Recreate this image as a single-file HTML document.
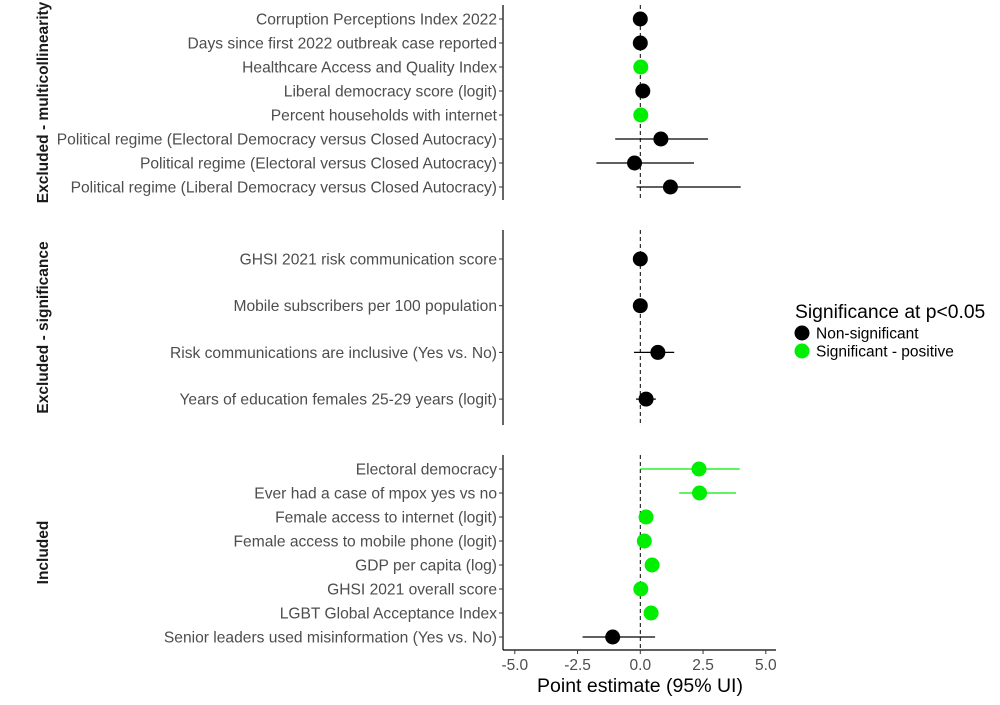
<!DOCTYPE html>
<html><head><meta charset="utf-8"><style>
body{margin:0;background:#fff;}
svg{font-family:"Liberation Sans",Arial,sans-serif;}
</style></head><body>
<svg id="chart" width="1000" height="700"></svg>
<script>
const panelNames=["Excluded - multicollinearity","Excluded - significance","Included"];
const labels1=["Corruption Perceptions Index 2022","Days since first 2022 outbreak case reported","Healthcare Access and Quality Index","Liberal democracy score (logit)","Percent households with internet","Political regime (Electoral Democracy versus Closed Autocracy)","Political regime (Electoral versus Closed Autocracy)","Political regime (Liberal Democracy versus Closed Autocracy)"];
const est1=[0.0,0.0,0.02,0.1,0.02,0.82,-0.23,1.2];
const lo1=[-0.05,-0.05,-0.03,0.05,-0.03,-1.0,-1.75,-0.15];
const hi1=[0.05,0.05,0.07,0.15,0.07,2.7,2.14,4.0];
const sig1=[0,0,1,0,1,0,0,0];
const labels2=["GHSI 2021 risk communication score","Mobile subscribers per 100 population","Risk communications are inclusive (Yes vs. No)","Years of education females 25-29 years (logit)"];
const est2=[0.0,0.0,0.7,0.23];
const lo2=[-0.05,-0.05,-0.25,-0.17];
const hi2=[0.05,0.05,1.35,0.62];
const sig2=[0,0,0,0];
const labels3=["Electoral democracy","Ever had a case of mpox yes vs no","Female access to internet (logit)","Female access to mobile phone (logit)","GDP per capita (log)","GHSI 2021 overall score","LGBT Global Acceptance Index","Senior leaders used misinformation (Yes vs. No)"];
const est3=[2.34,2.36,0.23,0.16,0.47,0.02,0.43,-1.1];
const lo3=[0.0,1.55,0.18,0.11,0.42,-0.03,0.38,-2.3];
const hi3=[3.96,3.81,0.28,0.21,0.52,0.07,0.48,0.59];
const sig3=[1,1,1,1,1,1,1,0];
const xTicks=[-5,-2.5,0,2.5,5];
const xTickLabels=["-5.0","-2.5","0.0","2.5","5.0"];

const NS="http://www.w3.org/2000/svg";
const svg=document.getElementById('chart');
function el(t,a,p){const e=document.createElementNS(NS,t);for(const k in a)e.setAttribute(k,a[k]);(p||svg).appendChild(e);return e;}
const x=v=>640.3+v*25.1;
const panels=[
 {top:5,bot:200,first:19,step:24,labels:labels1,est:est1,lo:lo1,hi:hi1,sig:sig1},
 {top:230,bot:425,first:259,step:46.7,labels:labels2,est:est2,lo:lo2,hi:hi2,sig:sig2},
 {top:455,bot:650,first:469,step:24,labels:labels3,est:est3,lo:lo3,hi:hi3,sig:sig3}
];
panels.forEach((p,pi)=>{
 const g=el('g',{});
 
 
 const ax=el('line',{x1:503,x2:503,y1:p.top,y2:p.bot,stroke:'#000','stroke-width':1.2},g);
 
 
 const z=el('line',{x1:x(0),x2:x(0),y1:p.top,y2:p.bot,stroke:'#000','stroke-dasharray':'4,3','stroke-width':1},g);
 
 
 const st=el('text',{x:0,y:0,transform:`translate(48,${(p.top+p.bot)/2}) rotate(-90)`,'text-anchor':'middle','font-size':15.5,'font-weight':'bold',fill:'#1a1a1a'},g);
 st.textContent=panelNames[pi];
 
 
 p.labels.forEach((lab,i)=>{
  const y=p.first+i*p.step;
  el('line',{x1:499,x2:503,y1:y,y2:y,stroke:'#333'},g);
  const t=el('text',{x:497,y:y+5.5,'text-anchor':'end','font-size':15.6,fill:'#4d4d4d'},g);
  t.textContent=lab;
  
  
  const col=p.sig[i]?'#00ee00':'#000';
  const ci=el('line',{x1:x(p.lo[i]),x2:x(p.hi[i]),y1:y,y2:y,stroke:col,'stroke-width':1.3},g);
  
  
  const c=el('circle',{cx:x(p.est[i]),cy:y,r:7.5,fill:col},g);
  
  
 });
});
const xa=el('line',{x1:503,x2:776,y1:650,y2:650,stroke:'#000','stroke-width':1.2});


xTicks.forEach((v,i)=>{
 el('line',{x1:x(v),x2:x(v),y1:650,y2:654,stroke:'#333'});
 const t=el('text',{x:x(v),y:670,'text-anchor':'middle','font-size':15.5,fill:'#4d4d4d'});
 t.textContent=xTickLabels[i];
 
 
});
const xt=el('text',{x:640,y:692,'text-anchor':'middle','font-size':19.5,fill:'#000'});
xt.textContent="Point estimate (95% UI)";


const lg=el('g',{});


const lt=el('text',{x:795,y:318,'font-size':19.3,fill:'#000'},lg);
lt.textContent="Significance at p<0.05";
const legItems=[["Non-significant","#000",333],["Significant - positive","#00ee00",351]];
legItems.forEach(([n,c,y])=>{
 const e=el('g',{},lg);
 
 
 el('circle',{cx:802,cy:y,r:7.5,fill:c},e);
 const t=el('text',{x:816,y:y+5.5,'font-size':15.5,fill:'#000'},e);
 t.textContent=n;
});
</script>
</body></html>
